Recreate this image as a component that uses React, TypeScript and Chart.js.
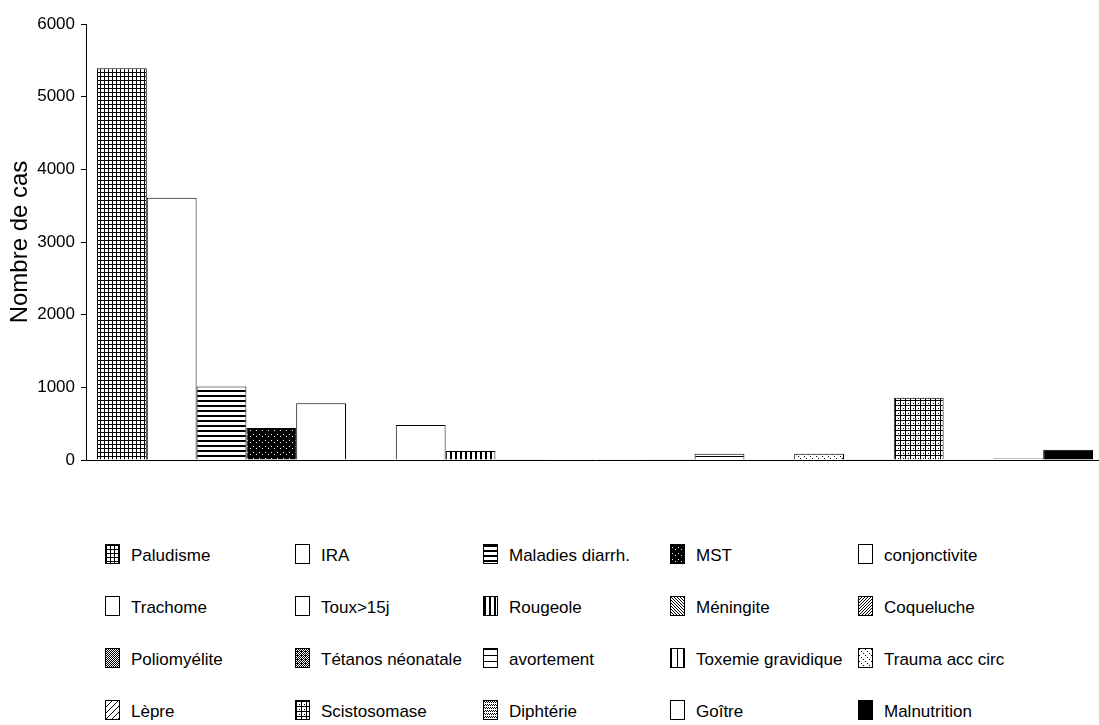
import React, { useEffect, useRef } from "react";
import { Chart, registerables } from "chart.js";

Chart.register(...registerables);

const categories: string[] = [
  "Paludisme", "IRA", "Maladies diarrh.", "MST", "conjonctivite",
  "Trachome", "Toux>15j", "Rougeole", "Méningite", "Coqueluche",
  "Poliomyélite", "Tétanos néonatale", "avortement", "Toxemie gravidique", "Trauma acc circ",
  "Lèpre", "Scistosomase", "Diphtérie", "Goître", "Malnutrition",
];

const values: number[] = [
  5390, 3610, 1010, 440, 780,
  8, 480, 125, 10, 3,
  2, 5, 85, 3, 85,
  5, 855, 3, 20, 140,
];

const yTicks: number[] = [0, 1000, 2000, 3000, 4000, 5000, 6000];

const patternKinds: string[] = [
  "grid", "white", "hlines", "speckle", "white",
  "white", "white", "vlines", "diagDown", "diagUp",
  "dots", "denseDots", "hlinesWide", "vlinesWide", "dotDiag",
  "lightDiag", "grid2", "checker", "white", "black",
];

function makeTile(kind: string): HTMLCanvasElement {
  const c = document.createElement("canvas");
  let s = 6;
  if (kind === "grid") s = 4;
  if (kind === "hlines" || kind === "vlines") s = 5;
  if (kind === "grid2") s = 5;
  if (kind === "dots" || kind === "denseDots") s = 4;
  c.width = s;
  c.height = s;
  const g = c.getContext("2d")!;
  g.fillStyle = "#fff";
  g.fillRect(0, 0, s, s);
  g.fillStyle = "#000";
  switch (kind) {
    case "grid":
      g.fillRect(0, 0, 1, s);
      g.fillRect(0, 0, s, 1);
      break;
    case "grid2":
      g.fillRect(0, 0, 1, s);
      g.fillRect(0, 0, s, 1);
      g.fillRect(3, 3, 1, 1);
      break;
    case "hlines":
      g.fillRect(0, 0, s, 2);
      break;
    case "vlines":
      g.fillRect(0, 0, 2, s);
      break;
    case "hlinesWide":
      g.fillRect(0, 0, s, 1);
      break;
    case "vlinesWide":
      g.fillRect(0, 0, 1, s);
      break;
    case "speckle":
      g.fillRect(0, 0, s, s);
      g.fillStyle = "#fff";
      g.fillRect(1, 2, 1, 1);
      g.fillRect(4, 4, 1, 1);
      break;
    case "black":
      g.fillRect(0, 0, s, s);
      break;
    case "diagDown":
      for (let i = 0; i < s; i++) g.fillRect(i, i, 1, 1);
      for (let i = 0; i < s; i++) g.fillRect((i + 3) % s, i, 1, 1);
      break;
    case "diagUp":
      for (let i = 0; i < s; i++) g.fillRect(s - 1 - i, i, 1, 1);
      for (let i = 0; i < s; i++) g.fillRect((s - 1 - i + 3) % s, i, 1, 1);
      break;
    case "lightDiag":
      for (let i = 0; i < s; i++) g.fillRect(s - 1 - i, i, 1, 1);
      break;
    case "dotDiag":
      for (let i = 0; i < s; i += 2) g.fillRect(i, i, 1, 1);
      break;
    case "dots":
      for (let y = 0; y < s; y++)
        for (let x = 0; x < s; x++) if ((x + y) % 2 === 0) g.fillRect(x, y, 1, 1);
      break;
    case "denseDots":
      for (let y = 0; y < s; y++)
        for (let x = 0; x < s; x++) if ((x + y) % 2 === 0 || (x === 1 && y === 2)) g.fillRect(x, y, 1, 1);
      break;
    case "checker":
      for (let y = 0; y < s; y++)
        for (let x = 0; x < s; x++) if ((x + y) % 2 === 0 && y % 3 !== 2) g.fillRect(x, y, 1, 1);
      break;
    default:
      break;
  }
  return c;
}

const FONT = "'Liberation Sans', Arial, sans-serif";
const CANVAS_W = 1110;
const CANVAS_H = 480;
const PLOT_BOTTOM = 460;

const legendCols = [105, 295, 483, 670, 858];
const legendRows = [544, 596, 648, 700];

export default function App() {
  const ref = useRef<HTMLCanvasElement | null>(null);
  const tiles = patternKinds.map((k) => makeTile(k));

  useEffect(() => {
    const canvas = ref.current;
    if (!canvas) return;
    const ctx = canvas.getContext("2d")!;
    const pats = tiles.map((t) => ctx.createPattern(t, "repeat") as CanvasPattern);
    const chart = new Chart(canvas, {
      type: "bar",
      data: {
        labels: [""],
        datasets: categories.map((c, i) => ({
          label: c,
          data: [values[i]],
          backgroundColor: pats[i],
          borderColor: "#000",
          borderWidth: 1,
          barPercentage: 1,
          categoryPercentage: 996 / 1018,
        })),
      },
      options: {
        responsive: false,
        animation: false,
        devicePixelRatio: 1,
        layout: { padding: { top: 24, bottom: CANVAS_H - PLOT_BOTTOM, left: 0, right: 6 } },
        plugins: { legend: { display: false }, tooltip: { enabled: false } },
        scales: {
          x: {
            grid: { display: false },
            ticks: { display: false },
            border: { color: "#000", width: 1 },
            afterFit: (s: any) => { s.height = 0; },
          },
          y: {
            min: 0,
            max: 6000,
            afterBuildTicks: (s: any) => { s.ticks = yTicks.map((v) => ({ value: v })); },
            ticks: {
              color: "#000",
              font: { family: FONT, size: 17 },
              padding: 6,
              callback: (v: any) => String(v),
            },
            grid: { drawOnChartArea: false, tickLength: 5, color: "#000" },
            border: { color: "#000", width: 1 },
            title: {
              display: true,
              text: "Nombre de cas",
              color: "#000",
              font: { family: FONT, size: 24 },
              padding: { top: 6, bottom: 0 },
            },
            afterFit: (s: any) => { s.width = 86; },
          },
        },
      },
    });
    return () => chart.destroy();
  }, []);

  return (
    <div style={{ position: "absolute", left: 0, top: 0, width: 1099, height: 725, overflow: "hidden", background: "#fff" }}>
      <canvas ref={ref} width={CANVAS_W} height={CANVAS_H} style={{ position: "absolute", left: 0, top: 0 }} />
      {categories.map((c, i) => {
        const col = i % 5;
        const row = Math.floor(i / 5);
        return (
          <div
            key={c}
            style={{
              position: "absolute",
              left: legendCols[col],
              top: legendRows[row],
              height: 20,
              display: "flex",
              alignItems: "flex-end",
              whiteSpace: "nowrap",
            }}
          >
            <span
              style={{
                display: "inline-block",
                width: 13,
                height: 18,
                border: "1px solid #000",
                backgroundColor: "#fff",
                backgroundImage: `url(${tiles[i].toDataURL()})`,
              }}
            />
            <span style={{ marginLeft: 11, fontFamily: FONT, fontSize: 17, lineHeight: "17px", color: "#000" }}>{c}</span>
          </div>
        );
      })}
    </div>
  );
}
